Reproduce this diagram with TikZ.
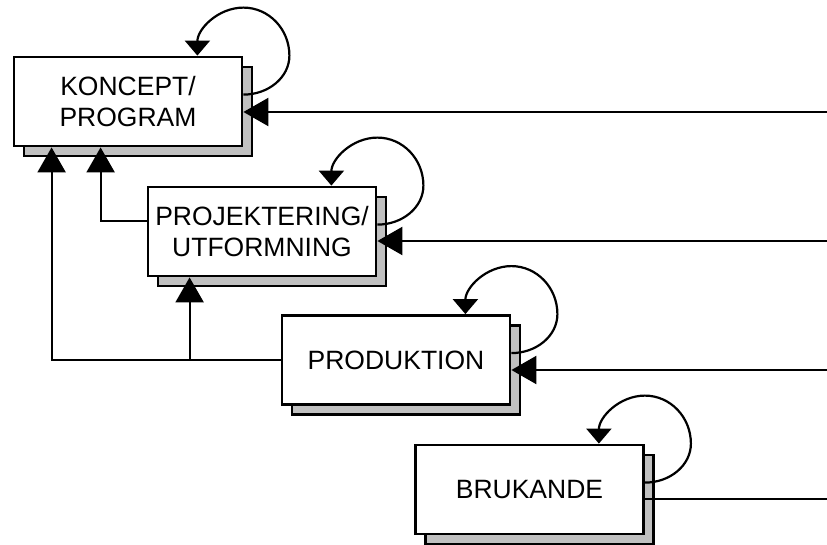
\documentclass[tikz,border=0pt]{standalone}
\usepackage{fontspec}
\setmainfont{Liberation Sans}
\usepackage{tikz}
\usetikzlibrary{arrows.meta}
\usetikzlibrary{shadows}
\definecolor{shadowgray}{HTML}{C0C0C0}

\begin{document}
\begin{tikzpicture}[x=1pt,y=1pt,
    phase/.style={rectangle,draw,fill=white,line width=2.8pt,
      minimum width=228pt,minimum height=89pt,align=center,
      font=\fontsize{26.5}{31}\selectfont,
      general shadow={shadow xshift=10pt,shadow yshift=-10pt,
        fill=shadowgray,draw=black,line width=2.2pt}},
    feed/.style={line width=2.2pt,-{Triangle[length=25pt,width=28pt]}},
    loopy/.style={line width=2.2pt,-{Triangle[length=15pt,width=25pt]}}]

    \useasboundingbox (0,0) rectangle (827,-545);

    \node[phase]         (koncept) at (128, -101.5)       {KONCEPT/\\PROGRAM};
    \node[phase]         (proj)    at (262, -231.5)       {PROJEKTERING/\\UTFORMNING};
    \node[phase]         (prod)    at (396, -360)         {PRODUKTION};
    \node[phase]         (bruk)    at (529.5, -489.5)     {BRUKANDE};

    \coordinate (in1) at (827, -112);
    \coordinate (in2) at (827, -241);
    \coordinate (in3) at (827, -370);
    \coordinate (in4) at (827, -499);

    \draw[loopy] ([yshift=-39pt]koncept.north east) arc[start angle=-90,end angle=0,x radius=46,y radius=39]
        arc[start angle=0,end angle=180,x radius=46,y radius=48];
    \draw[loopy] ([yshift=-39pt]proj.north east) arc[start angle=-90,end angle=0,x radius=46,y radius=39]
        arc[start angle=0,end angle=180,x radius=46,y radius=48];
    \draw[loopy] ([yshift=-39pt]prod.north east) arc[start angle=-90,end angle=0,x radius=46,y radius=39]
        arc[start angle=0,end angle=180,x radius=46,y radius=48];
    \draw[loopy] ([yshift=-39pt]bruk.north east) arc[start angle=-90,end angle=0,x radius=46,y radius=39]
        arc[start angle=0,end angle=180,x radius=46,y radius=48];

    \draw[feed] (in1) -- (in1 -| koncept.east);
    \draw[feed] (in2) -- (in2 -| proj.east);
    \draw[feed] (in3) -- (in3 -| prod.east);
    \draw[line width=2.2pt] (in4) -- (in4 -| bruk.east);

    \draw[feed] ([yshift=10.5pt]proj.west) -| ([xshift=88pt]koncept.south west);
    \draw[feed] (prod.west) -| ([xshift=39pt]koncept.south west);
    \draw[feed] ([xshift=43pt]proj.south west |- prod.west) -- ([xshift=43pt]proj.south west);
\end{tikzpicture}
\end{document}
